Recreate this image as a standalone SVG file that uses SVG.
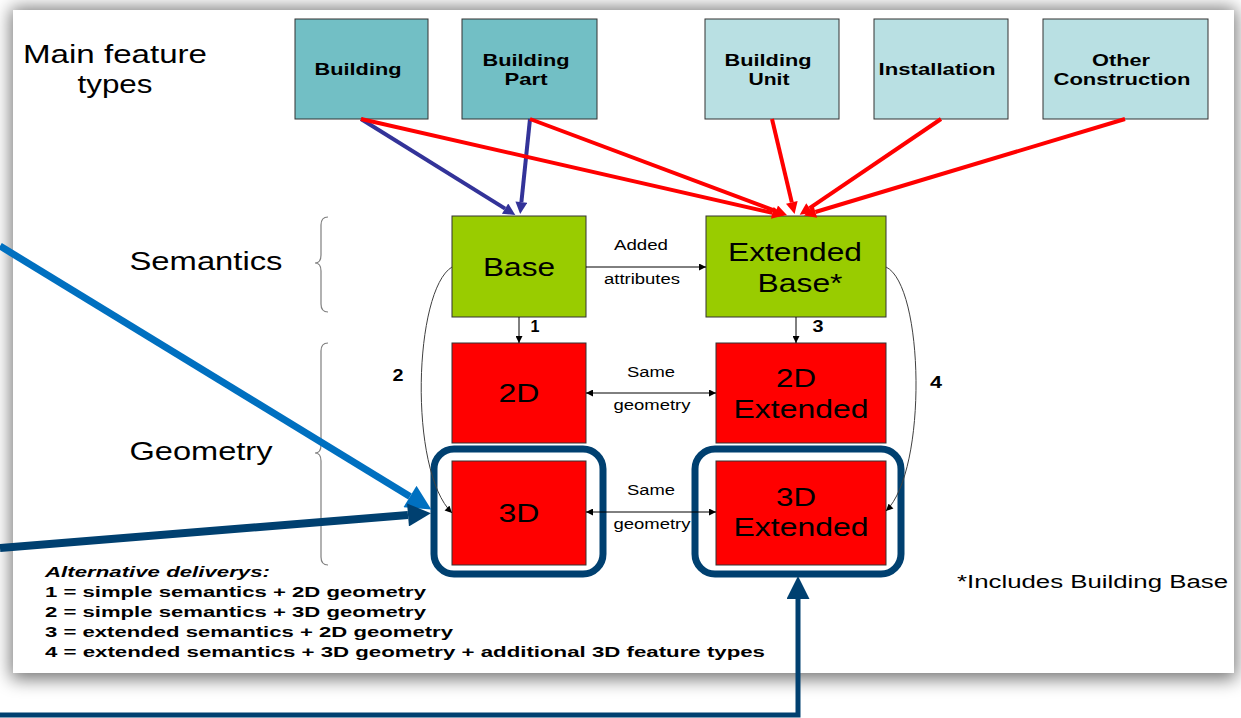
<svg xmlns="http://www.w3.org/2000/svg" width="1241" height="718" viewBox="0 0 1241 718">
<defs>
<style>
.t{font-family:"Liberation Sans",Arial,sans-serif;fill:#000;text-anchor:middle}
.b{font-weight:bold}
.box{stroke:#333;stroke-width:1}
.teal{fill:#72BFC5}
.lteal{fill:#B9E0E3}
.green{fill:#99CC00}
.red{fill:#FF0000}
.frame{fill:none;stroke:#004070;stroke-width:7}
.thin{fill:none;stroke:#000;stroke-width:1}
.curve{fill:none;stroke:#404040;stroke-width:1}
.brace{fill:none;stroke:#7f7f7f;stroke-width:1.2}
.rl{fill:none;stroke:#FF0000;stroke-width:4}
.nl{fill:none;stroke:#333399;stroke-width:4}
</style>
<filter id="sh" x="-5%" y="-5%" width="110%" height="115%">
<feGaussianBlur stdDeviation="9"/>
</filter>
<marker id="hr" viewBox="0 0 10 10" refX="0" refY="5" markerUnits="userSpaceOnUse" markerWidth="14" markerHeight="12" orient="auto"><path d="M0,0 L10,5 L0,10 z" fill="#FF0000"/></marker>
<marker id="hn" viewBox="0 0 10 10" refX="0" refY="5" markerUnits="userSpaceOnUse" markerWidth="14" markerHeight="12" orient="auto"><path d="M0,0 L10,5 L0,10 z" fill="#333399"/></marker>
<marker id="hk" viewBox="0 0 10 10" refX="10" refY="5" markerUnits="userSpaceOnUse" markerWidth="8" markerHeight="7" orient="auto-start-reverse"><path d="M0,0 L10,5 L0,10 z" fill="#000"/></marker>
<marker id="hlb" viewBox="0 0 10 10" refX="0" refY="5" markerUnits="userSpaceOnUse" markerWidth="26" markerHeight="25" orient="auto"><path d="M0,0 L10,5 L0,10 z" fill="#0070C0"/></marker>
<marker id="hdb" viewBox="0 0 10 10" refX="0" refY="5" markerUnits="userSpaceOnUse" markerWidth="24" markerHeight="23" orient="auto"><path d="M0,0 L10,5 L0,10 z" fill="#004070"/></marker>
</defs>

<rect width="1241" height="718" fill="#fff"/>
<rect x="11" y="8" width="1225" height="671" fill="#000" opacity="0.55" filter="url(#sh)"/>
<rect id="card" x="13" y="10" width="1221" height="663" fill="#fff"/>

<g id="titles">
<text class="t" x="115" y="63" font-size="25" textLength="184" lengthAdjust="spacingAndGlyphs">Main feature</text>
<text class="t" x="115" y="93" font-size="25" textLength="75" lengthAdjust="spacingAndGlyphs">types</text>
<text class="t" x="206" y="270" font-size="26" textLength="153" lengthAdjust="spacingAndGlyphs">Semantics</text>
<text class="t" x="201" y="460" font-size="26" textLength="143" lengthAdjust="spacingAndGlyphs">Geometry</text>
<path class="brace" d="M328,217 Q321,217 321,225 L321,255 Q321,263 315,263 Q321,263 321,271 L321,304 Q321,312 328,312"/>
<path class="brace" d="M328,343 Q321,343 321,351 L321,445 Q321,453 315,453 Q321,453 321,461 L321,557 Q321,565 328,565"/>
</g>

<g id="building">
<rect class="box teal" x="295" y="19" width="133" height="100"/>
<text class="t b" x="358" y="75" font-size="17" textLength="87" lengthAdjust="spacingAndGlyphs">Building</text>
</g>
<g id="building-part">
<rect class="box teal" x="462" y="19" width="135" height="100"/>
<text class="t b" x="526" y="66" font-size="17" textLength="87" lengthAdjust="spacingAndGlyphs">Building</text>
<text class="t b" x="526" y="85" font-size="17" textLength="43" lengthAdjust="spacingAndGlyphs">Part</text>
</g>
<g id="building-unit">
<rect class="box lteal" x="705" y="19" width="134" height="100"/>
<text class="t b" x="768" y="66" font-size="17" textLength="87" lengthAdjust="spacingAndGlyphs">Building</text>
<text class="t b" x="769" y="85" font-size="17" textLength="41" lengthAdjust="spacingAndGlyphs">Unit</text>
</g>
<g id="installation">
<rect class="box lteal" x="874" y="19" width="134" height="100"/>
<text class="t b" x="937" y="75" font-size="17" textLength="117" lengthAdjust="spacingAndGlyphs">Installation</text>
</g>
<g id="other-construction">
<rect class="box lteal" x="1043" y="19" width="165" height="100"/>
<text class="t b" x="1121" y="66" font-size="17" textLength="58" lengthAdjust="spacingAndGlyphs">Other</text>
<text class="t b" x="1122" y="85" font-size="17" textLength="137" lengthAdjust="spacingAndGlyphs">Construction</text>
</g>

<g id="base">
<rect class="box green" x="452" y="216" width="134" height="101"/>
<text class="t" x="519" y="276" font-size="26" textLength="72" lengthAdjust="spacingAndGlyphs">Base</text>
</g>
<g id="extended-base">
<rect class="box green" x="706" y="216" width="180" height="101"/>
<text class="t" x="795" y="261" font-size="26" textLength="134" lengthAdjust="spacingAndGlyphs">Extended</text>
<text class="t" x="800" y="292" font-size="26" textLength="85" lengthAdjust="spacingAndGlyphs">Base*</text>
</g>
<g id="d2">
<rect class="box red" x="452" y="343" width="134" height="100"/>
<text class="t" x="519" y="402" font-size="26" textLength="41" lengthAdjust="spacingAndGlyphs">2D</text>
</g>
<g id="d2-extended">
<rect class="box red" x="716" y="343" width="170" height="100"/>
<text class="t" x="796" y="387" font-size="26" textLength="40" lengthAdjust="spacingAndGlyphs">2D</text>
<text class="t" x="801" y="418" font-size="26" textLength="135" lengthAdjust="spacingAndGlyphs">Extended</text>
</g>
<g id="d3">
<rect class="box red" x="452" y="461" width="134" height="104"/>
<text class="t" x="519" y="522" font-size="26" textLength="41" lengthAdjust="spacingAndGlyphs">3D</text>
<rect class="frame" x="434" y="449" width="169" height="125" rx="20"/>
</g>
<g id="d3-extended">
<rect class="box red" x="716" y="461" width="170" height="104"/>
<text class="t" x="796" y="506" font-size="26" textLength="40" lengthAdjust="spacingAndGlyphs">3D</text>
<text class="t" x="801" y="536" font-size="26" textLength="135" lengthAdjust="spacingAndGlyphs">Extended</text>
<rect class="frame" x="695" y="449" width="206" height="125" rx="20"/>
</g>

<g id="connectors">
<path class="nl" d="M361,119 L505.1,208.6" marker-end="url(#hn)"/>
<path class="nl" d="M530,119 L521.4,202.1" marker-end="url(#hn)"/>
<path class="rl" d="M361,119 L772.3,212.9" marker-end="url(#hr)"/>
<path class="rl" d="M530,119 L775.9,211.1" marker-end="url(#hr)"/>
<path class="rl" d="M772,119 L791.8,202.4" marker-end="url(#hr)"/>
<path class="rl" d="M941,119 L809.6,208.1" marker-end="url(#hr)"/>
<path class="rl" d="M1125,119 L815.4,212" marker-end="url(#hr)"/>

<path class="thin" d="M586,267 L706,267" marker-end="url(#hk)"/>
<path class="thin" d="M519,317 L519,343" marker-end="url(#hk)"/>
<path class="thin" d="M796,317 L796,343" marker-end="url(#hk)"/>
<path class="thin" d="M586,393 L716,393" marker-start="url(#hk)" marker-end="url(#hk)"/>
<path class="thin" d="M586,512 L716,512" marker-start="url(#hk)" marker-end="url(#hk)"/>
<path class="curve" d="M452,267 C414,290 408,470 452,513" marker-end="url(#hk)"/>
<path class="curve" d="M886,267 C924,285 928,470 886,511" marker-end="url(#hk)"/>

<text class="t" x="641" y="250" font-size="14" textLength="54" lengthAdjust="spacingAndGlyphs">Added</text>
<text class="t" x="642" y="284" font-size="14" textLength="76" lengthAdjust="spacingAndGlyphs">attributes</text>
<text class="t b" x="535" y="332" font-size="16" textLength="9" lengthAdjust="spacingAndGlyphs">1</text>
<text class="t b" x="818" y="332" font-size="16" textLength="11" lengthAdjust="spacingAndGlyphs">3</text>
<text class="t b" x="398" y="381" font-size="16" textLength="11" lengthAdjust="spacingAndGlyphs">2</text>
<text class="t b" x="936" y="388" font-size="16" textLength="12" lengthAdjust="spacingAndGlyphs">4</text>
<text class="t" x="651" y="377" font-size="14" textLength="48" lengthAdjust="spacingAndGlyphs">Same</text>
<text class="t" x="652" y="410" font-size="14" textLength="77" lengthAdjust="spacingAndGlyphs">geometry</text>
<text class="t" x="651" y="495" font-size="14" textLength="48" lengthAdjust="spacingAndGlyphs">Same</text>
<text class="t" x="652" y="529" font-size="14" textLength="77" lengthAdjust="spacingAndGlyphs">geometry</text>

<path fill="none" stroke="#0070C0" stroke-width="7" d="M0,246 L410,496.5" marker-end="url(#hlb)"/>
<path fill="none" stroke="#004070" stroke-width="8" d="M0,548 L408,515" marker-end="url(#hdb)"/>
<path fill="none" stroke="#004070" stroke-width="5" d="M0,715 L798,715 L798,599" marker-end="url(#hdb)"/>
</g>

<g id="legend">
<text class="t b" x="45" y="577" font-size="15" font-style="italic" style="text-anchor:start" textLength="225" lengthAdjust="spacingAndGlyphs">Alternative deliverys:</text>
<text class="t b" x="45" y="597" font-size="15" style="text-anchor:start" textLength="381" lengthAdjust="spacingAndGlyphs">1 = simple semantics + 2D geometry</text>
<text class="t b" x="45" y="617" font-size="15" style="text-anchor:start" textLength="381" lengthAdjust="spacingAndGlyphs">2 = simple semantics + 3D geometry</text>
<text class="t b" x="45" y="637" font-size="15" style="text-anchor:start" textLength="408" lengthAdjust="spacingAndGlyphs">3 = extended semantics + 2D geometry</text>
<text class="t b" x="45" y="657" font-size="15" style="text-anchor:start" textLength="720" lengthAdjust="spacingAndGlyphs">4 = extended semantics + 3D geometry + additional 3D feature types</text>
<text class="t" x="957" y="588" font-size="18" style="text-anchor:start" textLength="271" lengthAdjust="spacingAndGlyphs">*Includes Building Base</text>
</g>
</svg>
